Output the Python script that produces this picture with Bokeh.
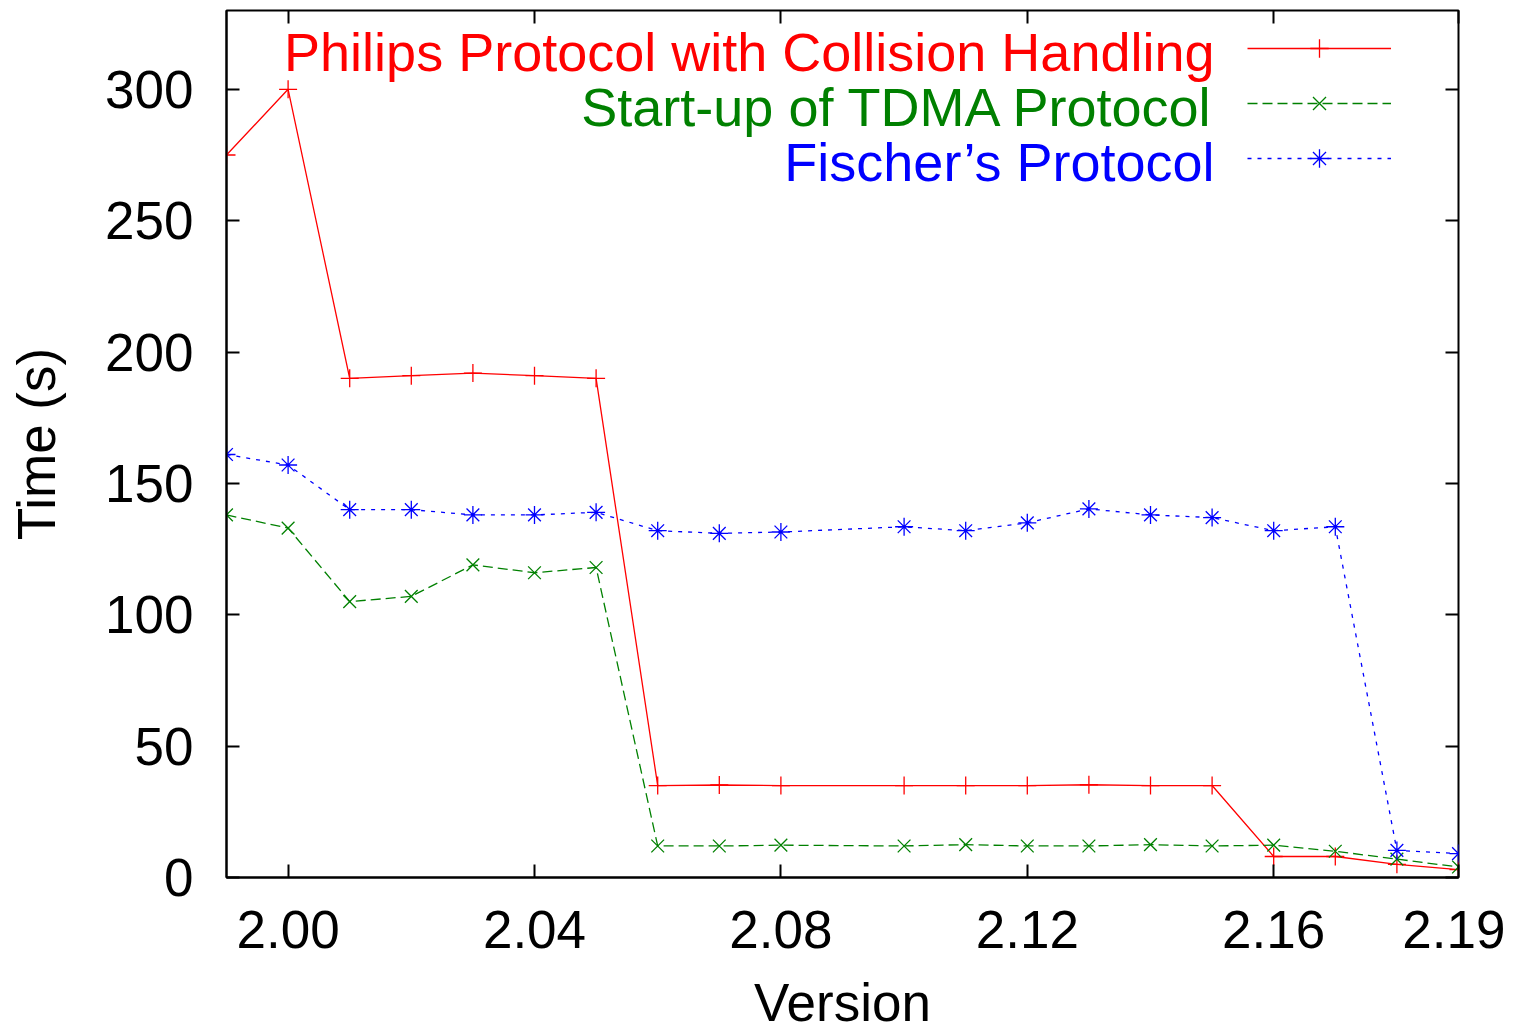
from bokeh.plotting import figure
from bokeh.models import (FixedTicker, NumeralTickFormatter, LinearAxis, Range1d,
                          Legend, LegendItem, Label, CustomJSTickFormatter)
from bokeh.embed import file_html
from bokeh.resources import INLINE

versions = [1.99, 2.00, 2.01, 2.02, 2.03, 2.04, 2.05, 2.06, 2.07, 2.08,
            2.10, 2.11, 2.12, 2.13, 2.14, 2.15, 2.16, 2.17, 2.18, 2.19]
philips = [275, 300, 190, 191, 192, 191, 190, 35, 35.2, 35, 35, 35, 35,
           35.3, 35, 35, 8, 8, 5, 3]
tdma = [138, 133, 105, 107, 119, 116, 118, 12, 12, 12.3, 12, 12.5, 12,
        12, 12.5, 12, 12.3, 10, 7, 4]
fischer = [161, 157, 140, 140, 138, 138, 139, 132, 131, 131.5, 133.5, 132,
           135, 140.3, 138, 137, 132, 133.5, 10.3, 9.1]
names = ["Philips Protocol with Collision Handling",
         "Start-up of TDMA Protocol",
         "Fischer\u2019s Protocol"]
x_ticks = [2.00, 2.04, 2.08, 2.12, 2.16, 2.19]
y_ticks = [0, 50, 100, 150, 200, 250, 300]

FONT = "Liberation Sans"
FS = "53px"

p = figure(width=1505, height=1035, output_backend="svg", toolbar_location=None,
           x_range=Range1d(1.99, 2.19), y_range=Range1d(0, 330),
           min_border_left=226, min_border_right=47, min_border_top=10,
           min_border_bottom=158)
p.xgrid.visible = False
p.ygrid.visible = False
p.outline_line_color = "black"
p.outline_line_width = 2
p.background_fill_color = "white"
p.border_fill_color = "white"

for ax in (p.xaxis[0], p.yaxis[0]):
    ax.major_tick_in = 13
    ax.major_tick_out = 0
    ax.minor_tick_in = 0
    ax.minor_tick_out = 0
    ax.axis_line_width = 2
    ax.major_tick_line_width = 2
    ax.major_label_text_font = FONT
    ax.major_label_text_font_size = FS
    ax.major_label_text_color = "black"
    ax.axis_label_text_font = FONT
    ax.axis_label_text_font_size = FS
    ax.axis_label_text_font_style = "normal"
    ax.axis_label_text_color = "black"

p.xaxis[0].ticker = FixedTicker(ticks=x_ticks)
p.xaxis[0].formatter = NumeralTickFormatter(format="0.00")
p.xaxis[0].axis_label = "Version"
p.xaxis[0].major_label_standoff = 33
p.xaxis[0].axis_label_standoff = 22
p.yaxis[0].ticker = FixedTicker(ticks=y_ticks)
p.yaxis[0].axis_label = "Time (s)"
p.yaxis[0].major_label_standoff = 33
p.yaxis[0].axis_label_standoff = 36

blank = CustomJSTickFormatter(code="return ''")
top = LinearAxis(ticker=FixedTicker(ticks=x_ticks), formatter=blank,
                 major_tick_in=13, major_tick_out=0, minor_tick_in=0, minor_tick_out=0,
                 axis_line_color=None, major_tick_line_width=2,
                 major_label_standoff=0, major_label_text_font_size="0px")
right = LinearAxis(ticker=FixedTicker(ticks=y_ticks), formatter=blank,
                   major_tick_in=13, major_tick_out=0, minor_tick_in=0, minor_tick_out=0,
                   axis_line_color=None, major_tick_line_width=2,
                   major_label_standoff=0, major_label_text_font_size="0px")
p.add_layout(top, "above")
p.add_layout(right, "right")

series = [
    (philips, "#ff0000", "solid", "cross"),
    (tdma, "#008000", "10 5", "x"),
    (fischer, "#0000ff", "4 6", "asterisk"),
]
items = []
for vals, col, dash, mk in series:
    ln = p.line(versions, vals, line_color=col, line_width=1.3, line_dash=dash)
    sc = p.scatter(versions, vals, marker=mk, size=18, line_color=col,
                   fill_color=None, line_width=1.3)
    items.append(LegendItem(label=" ", renderers=[ln, sc]))

leg = Legend(items=items, location=(1021, 696), orientation="vertical",
             glyph_width=144, glyph_height=46, label_height=46, label_width=0,
             label_standoff=0, label_text_font_size="1px", spacing=9,
             padding=0, margin=0, border_line_color=None,
             background_fill_alpha=0)
p.add_layout(leg, "center")

label_y = [826, 771, 716]
for name, (vals, col, dash, mk), ly in zip(names, series, label_y):
    p.add_layout(Label(x=988, y=ly, x_units="screen", y_units="screen",
                       text=name, text_align="right", text_baseline="middle",
                       text_font=FONT, text_font_size="54px", text_color=col))

open("out.html", "w").write(file_html(p, INLINE))
